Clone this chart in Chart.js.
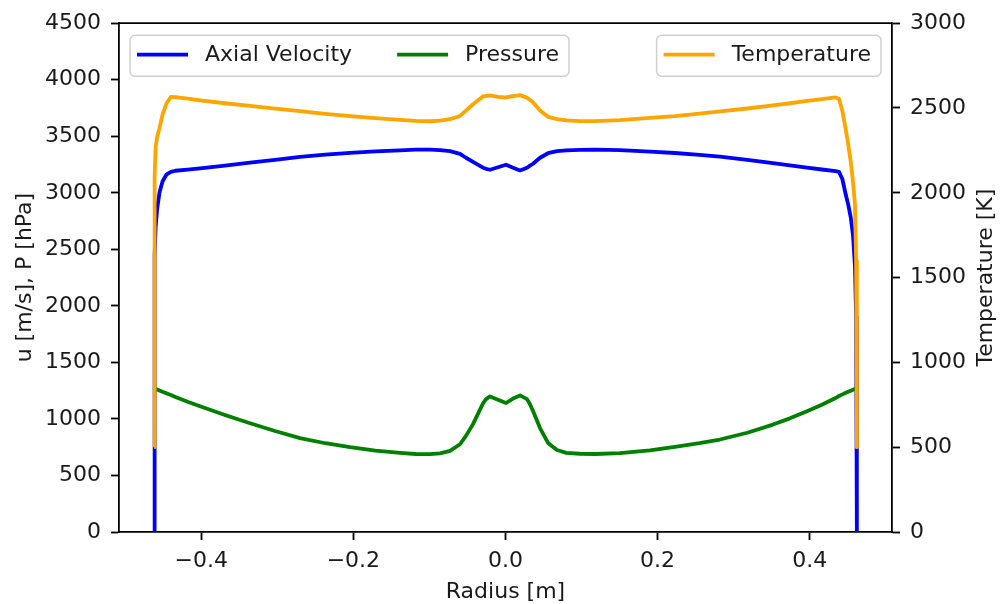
<!DOCTYPE html>
<html>
<head>
<meta charset="utf-8">
<title>Radial profiles</title>
<script src="https://cdn.jsdelivr.net/npm/chart.js@4.4.1/dist/chart.umd.min.js"></script>
<style>
  html, body { margin: 0; padding: 0; background: #fff; }
  canvas { display: block; }
</style>
</head>
<body>
<canvas id="profiles" width="1001" height="604"></canvas>
<script>
// radial stations [m]
const radius = [
  -0.462, -0.4617, -0.461, -0.46, -0.458, -0.455, -0.451, -0.446, -0.44, -0.434,
  -0.418, -0.4017, -0.3689, -0.3359, -0.303, -0.2702, -0.237, -0.2044, -0.171, -0.1387,
  -0.118, -0.0993, -0.086, -0.073, -0.0598, -0.052, -0.0427, -0.0296, -0.0256, -0.0204,
  -0.0099, 0.0007, 0.0099, 0.0191, 0.0283, 0.0322, 0.0362, 0.0454, 0.0559, 0.0677,
  0.08, 0.098, 0.118, 0.1505, 0.19, 0.2228, 0.255, 0.282, 0.318, 0.3517,
  0.374, 0.3964, 0.416, 0.434, 0.4385, 0.443, 0.4475, 0.4505, 0.454, 0.457,
  0.4595, 0.461, 0.462
];
// axial velocity [m/s]
const axialVelocity = [
  0, 1900, 2450, 2700, 2860, 3000, 3100, 3160, 3185, 3195,
  3205, 3217, 3240, 3266, 3292, 3318, 3337, 3353, 3367, 3376,
  3381, 3382, 3378, 3368, 3344, 3310, 3274, 3222, 3212, 3204,
  3226, 3248, 3222, 3198, 3222, 3240, 3257, 3310, 3350, 3368,
  3376, 3380, 3381, 3377, 3364, 3352, 3336, 3320, 3292, 3262,
  3243, 3222, 3206, 3192, 3185, 3120, 2980, 2900, 2780, 2620,
  2350, 1900, 0
];
// pressure [hPa]
const pressure = [
  1272, 1271, 1269, 1266, 1261, 1252, 1241, 1227, 1211, 1194,
  1152, 1112, 1035, 962, 893, 830, 785, 750, 720, 700,
  690, 688, 695, 718, 776, 850, 954, 1138, 1175, 1199,
  1170, 1141, 1180, 1208, 1175, 1130, 1070, 919, 788, 725,
  700, 692, 690, 698, 722, 752, 785, 818, 878, 950,
  1005, 1068, 1125, 1185, 1203, 1217, 1231, 1240, 1250, 1259,
  1266, 1270, 1272
];
// temperature [K]
const temperature = [
  500, 1700, 2100, 2270, 2330, 2380, 2460, 2525, 2566, 2564,
  2555, 2545, 2528, 2512, 2496, 2481, 2466, 2452, 2440, 2430,
  2424, 2422, 2425, 2434, 2453, 2485, 2522, 2568, 2572, 2574,
  2566, 2562, 2570, 2576, 2560, 2548, 2533, 2485, 2448, 2434,
  2427, 2423, 2423, 2428, 2442, 2452, 2467, 2480, 2497, 2515,
  2528, 2542, 2552, 2562, 2555, 2480, 2370, 2290, 2180, 2060,
  1930, 1600, 500
];

const radiusTicks = [-0.4, -0.2, 0.0, 0.2, 0.4];
const leftTicks = [0, 500, 1000, 1500, 2000, 2500, 3000, 3500, 4000, 4500];
const tempTicks = [0, 500, 1000, 1500, 2000, 2500, 3000];

const FONT = "'DejaVu Sans', 'Liberation Sans', sans-serif";
const TEXT = '#1a1a1a';
const BLUE = '#0000ff', GREEN = '#008000', ORANGE = '#ffa500';
const LINE_W = 3.8;

// 5% margin on each side of the data range, like the default autoscale
const rMax = Math.max(...radius.map(Math.abs));
const xLim = rMax * 1.1;

const points = (ys) => radius.map((r, i) => ({ x: r, y: ys[i] }));
const fixTicks = (vals) => (scale) => { scale.ticks = vals.map(v => ({ value: v })); };

function axisStyle(pad, fmt) {
  return {
    grid: { drawOnChartArea: false, drawTicks: true, tickLength: 8, tickColor: '#000', tickWidth: 1.8 },
    border: { display: true, color: '#000', width: 1.8 },
    ticks: { color: TEXT, padding: pad, font: { family: FONT, size: 22 }, callback: fmt }
  };
}

// frame, axis titles and the two legend boxes
const decorations = {
  id: 'decorations',
  afterDatasetsDraw(chart) {
    const ctx = chart.ctx;
    const a = chart.chartArea;
    ctx.save();
    ctx.strokeStyle = '#000';
    ctx.lineWidth = 1.8;
    ctx.beginPath();
    ctx.moveTo(a.left, a.top);
    ctx.lineTo(a.right, a.top);
    ctx.stroke();

    ctx.font = '22px ' + FONT;
    ctx.fillStyle = TEXT;
    ctx.textAlign = 'center';
    ctx.textBaseline = 'alphabetic';
    ctx.fillText('Radius [m]', (a.left + a.right) / 2, 598);

    const midY = (a.top + a.bottom) / 2;
    ctx.save();
    ctx.translate(31, midY);
    ctx.rotate(-Math.PI / 2);
    ctx.fillText('u [m/s], P [hPa]', 0, 0);
    ctx.restore();
    ctx.save();
    ctx.translate(992, midY);
    ctx.rotate(-Math.PI / 2);
    ctx.fillText('Temperature [K]', 0, 0);
    ctx.restore();

    // legends
    const boxTop = a.top + 12, boxH = 41, lineY = boxTop + 19.5;
    const handle = 51, gapText = 17, colGap = 45, padL = 7, padR = 10;
    function box(x, w) {
      ctx.beginPath();
      ctx.roundRect(x, boxTop, w, boxH, 5);
      ctx.fillStyle = 'rgba(255,255,255,0.8)';
      ctx.fill();
      ctx.strokeStyle = '#d0d0d0';
      ctx.lineWidth = 1.5;
      ctx.stroke();
    }
    function item(x, color, label) {
      ctx.strokeStyle = color;
      ctx.lineWidth = LINE_W;
      ctx.beginPath();
      ctx.moveTo(x, lineY);
      ctx.lineTo(x + handle, lineY);
      ctx.stroke();
      ctx.fillStyle = TEXT;
      ctx.textAlign = 'left';
      ctx.textBaseline = 'middle';
      ctx.fillText(label, x + handle + gapText, lineY + 1);
      return x + handle + gapText + ctx.measureText(label).width;
    }
    const w1 = ctx.measureText('Axial Velocity').width;
    const w2 = ctx.measureText('Pressure').width;
    const leftX = a.left + 11;
    box(leftX, padL + handle + gapText + w1 + colGap + handle + gapText + w2 + padR);
    const cx = item(leftX + padL, BLUE, 'Axial Velocity');
    item(cx + colGap, GREEN, 'Pressure');

    const w3 = ctx.measureText('Temperature').width;
    const rw = padL + handle + gapText + w3 + padR;
    const rightX = a.right - 11 - rw;
    box(rightX, rw);
    item(rightX + padL, ORANGE, 'Temperature');
    ctx.restore();
  }
};

const plain = (v) => String(v);
const signed = (v) => v.toFixed(1).replace('-', '\u2212');

new Chart(document.getElementById('profiles'), {
  type: 'line',
  data: {
    datasets: [
      { label: 'Axial Velocity', data: points(axialVelocity), borderColor: BLUE, yAxisID: 'y', order: 2 },
      { label: 'Pressure', data: points(pressure), borderColor: GREEN, yAxisID: 'y', order: 1 },
      { label: 'Temperature', data: points(temperature), borderColor: ORANGE, yAxisID: 'yT', order: 0 }
    ]
  },
  options: {
    responsive: false,
    animation: false,
    parsing: false,
    layout: { padding: { top: 18, left: 0, right: 0, bottom: 0 } },
    elements: {
      line: { borderWidth: LINE_W, tension: 0, borderJoinStyle: 'round', borderCapStyle: 'butt' },
      point: { radius: 0 }
    },
    plugins: { legend: { display: false }, tooltip: { enabled: false } },
    scales: {
      x: Object.assign(axisStyle(8, signed), {
        type: 'linear', position: 'bottom', min: -xLim, max: xLim,
        afterBuildTicks: fixTicks(radiusTicks),
        afterFit: (s) => { s.height = 72; }
      }),
      y: Object.assign(axisStyle(10, plain), {
        type: 'linear', position: 'left', min: 0, max: 4500,
        afterBuildTicks: fixTicks(leftTicks),
        afterFit: (s) => { s.width = 119; }
      }),
      yT: Object.assign(axisStyle(10, plain), {
        type: 'linear', position: 'right', min: 0, max: 3000,
        afterBuildTicks: fixTicks(tempTicks),
        afterFit: (s) => { s.width = 109; }
      })
    }
  },
  plugins: [decorations]
});
</script>
</body>
</html>
